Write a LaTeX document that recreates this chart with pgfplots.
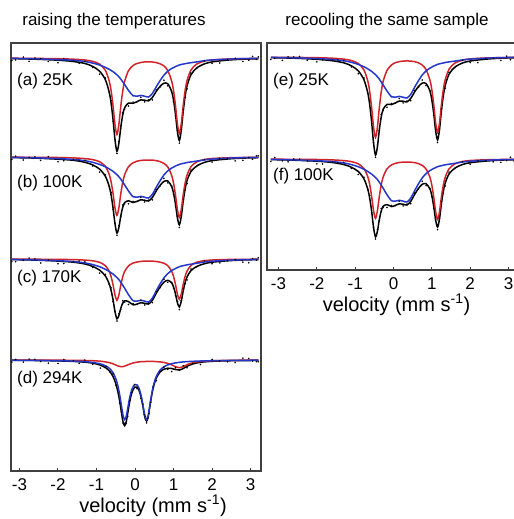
\documentclass[border=0pt]{standalone}
\usepackage{fontspec}
\setmainfont{Liberation Sans}
\usepackage{pgfplots}
\usepackage{pgfplotstable}
\pgfplotsset{compat=1.18}
\definecolor{fitred}{RGB}{210,35,40}
\definecolor{fitblue}{RGB}{35,55,205}
\newcommand{\bigf}{\fontsize{17bp}{20bp}\selectfont}
\newcommand{\labf}{\fontsize{20bp}{23bp}\selectfont}

% panel (a) 25K : v red blue black data
\pgfplotstableread{
v red blue black dot
-3.2 58.2 58.4 58.6 60.4
-2.6 58.4 58.8 59.2 58.0
-2.0 58.7 59.6 60.2 62.8
-1.6 59.2 60.3 61.5 60.9
-1.3 60.0 61.5 63.5 61.4
-1.1 61.4 63.1 66.4 67.5
-0.92 64.1 65.0 71.2 74.2
-0.77 70.4 67.4 79.7 78.0
-0.67 81.0 69.3 92.3 92.7
-0.62 91.0 70.5 103.5 100.7
-0.57 106.1 71.7 119.8 121.3
-0.52 124.7 73.2 139.9 139.6
-0.47 134.5 74.8 151.3 153.5
-0.42 124.7 76.7 143.4 141.5
-0.37 106.2 79.1 127.3 128.2
-0.32 91.2 81.8 115.0 112.6
-0.27 81.2 84.5 107.7 109.0
-0.17 70.7 90.4 103.1 106.0
-0.05 65.5 95.8 103.3 102.2
0.05 63.5 96.2 101.7 101.9
0.15 62.5 95.4 99.9 97.3
0.25 61.9 96.2 100.2 101.9
0.35 61.8 97.0 100.8 100.0
0.45 62.0 93.5 97.5 99.9
0.55 62.6 86.9 91.4 89.9
0.65 63.8 80.6 86.4 87.0
0.75 66.0 75.2 83.2 80.2
0.85 70.6 71.3 83.8 85.7
0.95 80.9 68.5 91.5 91.1
1.0 90.8 67.6 100.3 101.3
1.05 105.6 66.6 114.2 116.0
1.1 123.8 65.8 131.6 130.4
1.15 133.5 65.0 140.5 143.1
1.2 123.8 64.4 130.2 129.6
1.25 105.5 64.1 111.6 109.5
1.3 90.6 63.7 96.3 97.4
1.35 80.7 63.3 85.9 88.9
1.45 70.2 62.7 74.9 73.2
1.6 64.1 61.9 68.0 68.4
1.8 61.1 60.7 63.9 61.1
2.0 59.9 60.0 61.9 63.4
2.4 59.0 59.2 60.1 59.8
2.8 58.6 58.6 59.2 61.4
3.2 58.4 58.4 58.8 56.9
}\tA

\pgfplotstableread{
v red blue black dot
-3.2 157.2 157.4 157.6 159.4
-2.6 157.3 157.8 158.1 156.9
-2.0 157.5 158.6 159.2 161.8
-1.6 157.9 159.5 160.3 159.7
-1.3 158.6 160.7 162.3 160.2
-1.1 159.6 162.3 164.9 166.0
-0.92 161.7 164.4 169.1 172.1
-0.77 166.4 166.8 176.3 174.6
-0.67 174.5 168.9 186.4 186.8
-0.62 182.2 170.1 195.3 192.5
-0.57 193.7 171.4 208.1 209.6
-0.52 207.9 173.0 223.9 223.6
-0.47 215.4 174.6 233.0 235.2
-0.42 207.9 176.7 227.6 225.7
-0.37 193.8 179.1 216.0 216.9
-0.32 182.4 182.0 207.4 205.0
-0.27 174.7 184.9 202.6 203.9
-0.17 166.7 191.0 200.8 203.7
-0.05 162.8 196.8 202.5 201.4
0.05 161.2 197.2 201.4 201.6
0.15 160.4 196.4 199.8 197.2
0.25 160.1 197.2 200.2 201.9
0.35 160.0 198.0 201.0 200.2
0.45 160.1 194.3 197.5 199.9
0.55 160.6 187.3 190.9 189.4
0.65 161.6 180.8 185.4 186.0
0.75 163.4 175.0 181.4 178.4
0.85 167.0 170.9 181.0 182.9
0.95 175.3 168.1 186.4 186.0
1.0 183.2 167.1 193.2 194.2
1.05 195.1 166.0 204.1 205.9
1.1 209.7 165.2 217.9 216.7
1.15 217.4 164.4 224.8 227.4
1.2 209.6 163.8 216.4 215.8
1.25 195.0 163.4 201.4 199.3
1.3 183.0 163.0 189.0 190.1
1.35 175.1 162.5 180.6 183.6
1.45 166.8 161.9 171.7 170.0
1.6 161.9 161.1 166.0 166.4
1.8 159.5 159.9 162.4 159.6
2.0 158.5 159.1 160.6 162.1
2.4 157.8 158.2 159.0 158.7
2.8 157.5 157.6 158.1 160.3
3.2 157.3 157.4 157.7 155.8
}\tB

\pgfplotstableread{
v red blue black dot
-3.2 259.1 259.4 259.6 261.4
-2.6 259.2 259.9 260.1 258.9
-2.0 259.4 260.7 261.1 263.7
-1.6 259.6 261.6 262.2 261.6
-1.3 260.1 262.9 264.0 261.9
-1.1 260.8 264.6 266.4 267.5
-0.92 262.3 266.7 270.1 273.1
-0.77 265.7 269.3 276.0 274.3
-0.67 271.4 271.5 283.9 284.3
-0.62 276.8 272.8 290.6 287.8
-0.57 285.0 274.1 300.0 301.5
-0.52 295.0 275.8 311.7 311.4
-0.47 300.3 277.5 318.8 321.0
-0.42 295.0 279.6 315.6 313.7
-0.37 285.0 282.2 308.3 309.2
-0.32 276.9 285.2 303.1 300.7
-0.27 271.5 288.2 300.8 302.1
-0.17 265.9 294.7 301.6 304.5
-0.05 263.0 300.7 304.8 303.7
0.05 262.0 301.1 304.1 304.3
0.15 261.4 300.3 302.7 300.1
0.25 261.1 301.1 303.3 305.0
0.35 261.0 302.0 304.0 303.2
0.45 261.1 298.1 300.3 302.7
0.55 261.5 290.8 293.3 291.8
0.65 262.1 283.9 287.0 287.6
0.75 263.3 277.9 282.2 279.2
0.85 265.7 273.6 280.3 282.2
0.95 271.2 270.6 282.8 282.4
1.0 276.5 269.5 287.0 288.0
1.05 284.4 268.5 293.9 295.7
1.1 294.1 267.6 302.7 301.5
1.15 299.3 266.7 307.0 309.6
1.2 294.1 266.1 301.2 300.6
1.25 284.4 265.7 291.0 288.9
1.3 276.4 265.2 282.6 283.7
1.35 271.1 264.8 276.9 279.9
1.45 265.5 264.2 270.7 269.0
1.6 262.2 263.3 266.5 266.9
1.8 260.7 262.0 263.7 260.9
2.0 260.0 261.2 262.2 263.7
2.4 259.5 260.3 260.8 260.5
2.8 259.3 259.7 260.0 262.2
3.2 259.2 259.4 259.6 257.7
}\tC

\pgfplotstableread{
v red blue black dot
-3.2 360.1 360.2 360.3 362.1
-2.6 360.1 360.4 360.5 359.3
-2.0 360.2 360.7 360.9 363.5
-1.6 360.3 361.1 361.4 360.8
-1.3 360.5 361.7 362.2 360.1
-1.1 360.7 362.4 363.1 364.2
-0.9 361.2 363.9 365.1 368.1
-0.75 362.0 366.1 368.1 366.4
-0.65 362.8 368.9 371.7 372.1
-0.57 363.8 372.8 376.6 373.8
-0.5 365.0 378.6 383.6 385.1
-0.45 365.8 385.1 390.9 390.6
-0.4 366.4 394.4 400.8 403.0
-0.35 366.7 406.5 413.2 411.3
-0.31 366.6 415.5 422.1 423.0
-0.27 366.1 419.6 425.7 423.3
-0.23 365.5 416.4 421.9 423.2
-0.19 364.9 408.4 413.3 416.2
-0.14 364.1 397.8 401.9 400.8
-0.08 363.3 389.1 392.4 392.6
-0.01 362.6 384.6 387.2 384.6
0.05 362.2 384.9 387.1 388.8
0.1 361.9 388.1 390.0 389.2
0.15 361.7 394.3 396.0 398.4
0.2 361.6 403.9 405.5 404.0
0.24 361.5 412.7 414.2 414.8
0.27 361.5 417.9 419.4 416.4
0.30 361.4 419.6 421.0 422.9
0.33 361.4 417.2 418.6 418.2
0.36 361.4 411.3 412.7 413.7
0.41 361.4 399.0 400.4 402.2
0.47 361.4 386.7 388.1 386.9
0.55 361.6 376.6 378.2 380.8
0.65 361.9 370.1 372.0 371.4
0.75 362.4 366.8 369.2 367.1
0.85 363.4 364.9 368.2 369.3
0.95 364.8 363.7 368.5 371.5
1.05 366.7 362.9 369.5 367.8
1.15 367.7 362.3 370.0 370.4
1.25 366.6 361.9 368.5 365.7
1.35 364.7 361.6 366.3 367.8
1.5 362.7 361.3 363.9 363.6
1.7 361.4 361.0 362.3 364.5
2.0 360.7 360.7 361.3 359.4
2.4 360.4 360.5 360.8 361.7
2.8 360.2 360.3 360.6 358.2
3.2 360.1 360.2 360.4 361.7
}\tD

\pgfplotstableread{
v red blue black dot
-3.2 57.3 57.4 57.7 59.5
-2.6 57.4 57.8 58.2 57.0
-2.0 57.7 58.6 59.3 61.9
-1.6 58.2 59.5 60.7 60.1
-1.3 59.1 60.7 62.8 60.7
-1.1 60.5 62.3 65.8 66.9
-0.92 63.5 64.4 70.8 73.8
-0.77 70.0 66.8 79.8 78.1
-0.67 81.1 68.9 93.0 93.4
-0.62 91.7 70.1 104.9 102.1
-0.57 107.7 71.4 122.0 123.5
-0.52 127.1 73.0 143.1 142.8
-0.47 137.5 74.6 155.1 157.3
-0.42 127.2 76.7 146.9 145.0
-0.37 107.8 79.1 129.9 130.8
-0.32 91.9 82.0 116.9 114.5
-0.27 81.4 84.9 109.3 110.6
-0.17 70.4 91.0 104.4 107.3
-0.05 64.9 96.8 104.6 103.5
0.05 62.7 97.2 102.9 103.1
0.15 61.6 96.4 101.0 98.4
0.25 61.1 97.2 101.2 102.9
0.35 60.9 98.0 101.9 101.1
0.45 61.1 94.3 98.4 100.8
0.55 61.6 87.3 92.0 90.5
0.65 62.8 80.8 86.6 87.2
0.75 65.1 75.0 83.1 80.1
0.85 69.6 70.9 83.6 85.5
0.95 80.0 68.1 91.0 90.6
1.0 89.8 67.1 99.9 100.9
1.05 104.7 66.0 113.7 115.5
1.1 122.8 65.2 131.0 129.8
1.15 132.5 64.4 139.9 142.5
1.2 122.8 63.8 129.6 129.0
1.25 104.6 63.4 110.9 108.8
1.3 89.6 63.0 95.6 96.7
1.35 79.7 62.5 85.3 88.3
1.45 69.2 61.9 74.1 72.4
1.6 63.1 61.1 67.2 67.6
1.8 60.2 59.9 63.0 60.2
2.0 58.9 59.1 61.0 62.5
2.4 58.0 58.2 59.2 58.9
2.8 57.6 57.6 58.2 60.4
3.2 57.4 57.4 57.8 55.9
}\tE

\pgfplotstableread{
v red blue black dot
-3.2 159.2 159.4 159.6 161.4
-2.6 159.3 159.9 160.2 159.0
-2.0 159.5 160.7 161.2 163.8
-1.6 159.9 161.6 162.5 161.9
-1.3 160.6 162.9 164.5 162.4
-1.1 161.6 164.6 167.2 168.3
-0.92 163.8 166.7 171.5 174.5
-0.77 168.6 169.3 178.9 177.2
-0.67 176.8 171.5 189.3 189.7
-0.62 184.6 172.8 198.4 195.6
-0.57 196.4 174.1 211.4 212.9
-0.52 210.8 175.8 227.5 227.2
-0.47 218.4 177.5 236.9 239.1
-0.42 210.8 179.6 231.4 229.5
-0.37 196.5 182.2 219.7 220.6
-0.32 184.8 185.2 211.0 208.6
-0.27 177.0 188.2 206.3 207.6
-0.17 168.9 194.7 204.6 207.5
-0.05 164.9 200.7 206.6 205.5
0.05 163.3 201.1 205.4 205.6
0.15 162.5 200.3 203.8 201.2
0.25 162.1 201.1 204.2 205.9
0.35 162.0 202.0 205.0 204.2
0.45 162.2 198.1 201.3 203.7
0.55 162.6 190.8 194.5 193.0
0.65 163.6 183.9 188.5 189.1
0.75 165.4 177.9 184.3 181.3
0.85 169.1 173.6 183.7 185.6
0.95 177.3 170.6 188.9 188.5
1.0 185.2 169.5 195.7 196.7
1.05 197.1 168.5 206.6 208.4
1.1 211.7 167.6 220.3 219.1
1.15 219.4 166.7 227.1 229.7
1.2 211.7 166.1 218.8 218.2
1.25 197.0 165.7 203.7 201.6
1.3 185.0 165.2 191.3 192.4
1.35 177.1 164.8 182.9 185.9
1.45 168.8 164.2 173.9 172.2
1.6 163.9 163.3 168.2 168.6
1.8 161.5 162.0 164.5 161.7
2.0 160.5 161.2 162.7 164.2
2.4 159.8 160.3 161.1 160.8
2.8 159.5 159.7 160.1 162.3
3.2 159.3 159.4 159.8 157.9
}\tF

% extra data points in the flat baseline regions
\pgfplotstableread{
v a b c d e f
-3.1 59.9 156.2 261.7 359.5 58.3 157.5
-2.9 57.1 160.0 260.2 362.1 60.3 160.8
-2.75 61.4 157.3 258.1 359.1 56.9 161.8
-2.45 58.6 160.4 263.0 361.5 56.5 159.2
-2.25 61.5 156.6 260.1 363.2 60.2 161.0
-1.85 58.5 160.7 263.4 359.6 59.9 164.0
-1.45 63.3 160.3 261.1 363.4 59.9 162.6
2.2 63.0 158.2 262.9 361.0 62.7 160.6
2.6 58.2 160.9 259.6 362.6 58.2 161.8
2.95 60.2 157.5 262.7 358.5 56.2 160.6
3.05 56.4 159.3 258.6 361.1 59.7 157.3
3.15 59.3 155.8 260.2 361.7 57.1 161.4
}\tX

\pgfplotsset{
  moss/.style={
    scale only axis, anchor=south west, y dir=reverse,
    xtick={-3,-2,-1,0,1,2,3}, xticklabels={-3,-2,-1,0,1,2,3},
    ytick=\empty, xtick pos=bottom, tick align=inside,
    major tick length=3bp,
    tick style={line width=1bp, black!75},
    axis line style={line width=1.4bp, black!75},
    xticklabel style={font=\bigf, anchor=center, yshift=-14bp},
    xlabel={velocity (mm s\textsuperscript{-1})},
    xlabel style={font=\labf, at={(axis description cs:0.5,0)}, anchor=center, yshift=-35bp},
    clip=true,
  },
  dots/.style={only marks, mark=*, mark size=0.6bp, draw=none, fill=black!55, mark options={draw=none, fill=black!55}},
  fitk/.style={black, line width=1.5bp, smooth, tension=0.5},
  fitr/.style={fitred, line width=1.5bp, smooth, tension=0.5},
  fitb/.style={fitblue, line width=1.5bp, smooth, tension=0.5},
}

\begin{document}
\begin{tikzpicture}
\begin{axis}[moss, at={(11bp,48bp)}, width=250bp, height=428bp,
  xmin=-3.22, xmax=3.27, ymin=43, ymax=471,
  xlabel style={xshift=17bp}]
  \addplot[dots] table[x=v,y=dot]{\tA};
  \addplot[dots] table[x=v,y=a]{\tX};
  \addplot[fitk] table[x=v,y=black]{\tA};
  \addplot[fitr] table[x=v,y=red]{\tA};
  \addplot[fitb] table[x=v,y=blue]{\tA};
  \addplot[dots] table[x=v,y=dot]{\tB};
  \addplot[dots] table[x=v,y=b]{\tX};
  \addplot[fitk] table[x=v,y=black]{\tB};
  \addplot[fitr] table[x=v,y=red]{\tB};
  \addplot[fitb] table[x=v,y=blue]{\tB};
  \addplot[dots] table[x=v,y=dot]{\tC};
  \addplot[dots] table[x=v,y=c]{\tX};
  \addplot[fitk] table[x=v,y=black]{\tC};
  \addplot[fitr] table[x=v,y=red]{\tC};
  \addplot[fitb] table[x=v,y=blue]{\tC};
  \addplot[dots] table[x=v,y=dot]{\tD};
  \addplot[dots] table[x=v,y=d]{\tX};
  \addplot[fitk] table[x=v,y=black]{\tD};
  \addplot[fitr] table[x=v,y=red]{\tD};
  \addplot[fitb] table[x=v,y=blue]{\tD};
\end{axis}
\begin{axis}[moss, at={(267bp,249bp)}, width=253bp, height=227bp,
  xmin=-3.3, xmax=3.3, ymin=43, ymax=270,
  xlabel style={xshift=3bp}]
  \addplot[dots] table[x=v,y=dot]{\tE};
  \addplot[dots] table[x=v,y=e]{\tX};
  \addplot[fitk] table[x=v,y=black]{\tE};
  \addplot[fitr] table[x=v,y=red]{\tE};
  \addplot[fitb] table[x=v,y=blue]{\tE};
  \addplot[dots] table[x=v,y=dot]{\tF};
  \addplot[dots] table[x=v,y=f]{\tX};
  \addplot[fitk] table[x=v,y=black]{\tF};
  \addplot[fitr] table[x=v,y=red]{\tF};
  \addplot[fitb] table[x=v,y=blue]{\tF};
\end{axis}
\node[font=\bigf] at (114bp,497.5bp) {raising the temperatures};
\node[font=\bigf] at (387bp,497.5bp) {recooling the same sample};
\node[font=\bigf, anchor=west, inner sep=0pt] at (17bp,437.5bp) {(a) 25K};
\node[font=\bigf, anchor=west, inner sep=0pt] at (17bp,336bp) {(b) 100K};
\node[font=\bigf, anchor=west, inner sep=0pt] at (17bp,241bp) {(c) 170K};
\node[font=\bigf, anchor=west, inner sep=0pt] at (17bp,140bp) {(d) 294K};
\node[font=\bigf, anchor=west, inner sep=0pt] at (273bp,437.5bp) {(e) 25K};
\node[font=\bigf, anchor=west, inner sep=0pt] at (273bp,342.5bp) {(f) 100K};
\pgfresetboundingbox
\useasboundingbox (0,0) rectangle (514bp,519bp);
\end{tikzpicture}
\end{document}
